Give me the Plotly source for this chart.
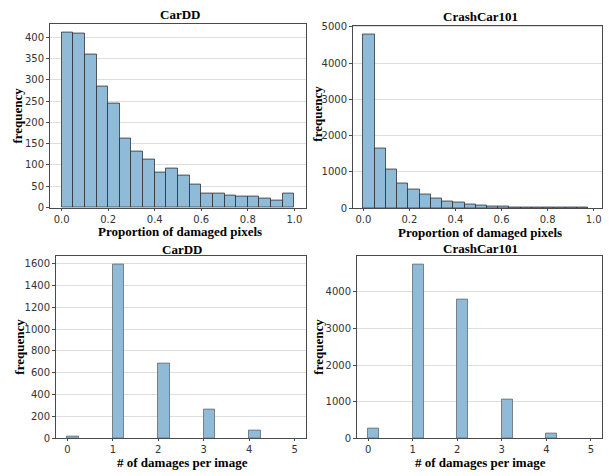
import plotly.graph_objects as go

W, H = 609, 476

# ---- data ----
# Top-left: CarDD, proportion of damaged pixels (20 bins over 0..1)
carDD_prop_bin_start = [i * 0.05 for i in range(20)]
carDD_prop_bin_width = 0.05
carDD_prop_counts = [411, 407, 360, 283, 245, 163, 131, 112, 82, 91,
                     74, 55, 32, 34, 29, 27, 25, 22, 16, 34]

# Top-right: CrashCar101, proportion of damaged pixels (20 bins over 0..~0.976)
crash_prop_bin_width = 0.0488
crash_prop_bin_start = [i * 0.0488 for i in range(20)]
crash_prop_counts = [4800, 1650, 1065, 690, 505, 370, 255, 195, 150, 98,
                     72, 54, 36, 27, 20, 15, 11, 8, 5, 3]

# Bottom: number of damages per image (bins of width 0.25 over 0..5)
dmg_bin_width = 0.25
dmg_bin_start = [0, 1, 2, 3, 4]
carDD_dmg_counts = [15, 1595, 688, 266, 66]
crash_dmg_counts = [267, 4757, 3804, 1042, 125]

title_left = "CarDD"
title_right = "CrashCar101"
xlabel_top = "Proportion of damaged pixels"
xlabel_bottom = "# of damages per image"
ylabel = "frequency"

BAR_FILL = "#8fbbd9"
EDGE_TOP = "rgba(40,40,40,0.75)"
EDGE_BOT = "rgba(90,90,90,0.7)"

fig = go.Figure()

def add_hist(starts, width, counts, xa, ya, edge):
    fig.add_trace(go.Bar(
        x=[s + width / 2 for s in starts], y=counts, width=width,
        marker=dict(color=BAR_FILL, line=dict(color=edge, width=1)),
        xaxis=xa, yaxis=ya, showlegend=False, hoverinfo="x+y"))

add_hist(carDD_prop_bin_start, carDD_prop_bin_width, carDD_prop_counts, "x", "y", EDGE_TOP)
add_hist(crash_prop_bin_start, crash_prop_bin_width, crash_prop_counts, "x2", "y2", EDGE_TOP)
add_hist(dmg_bin_start, dmg_bin_width, carDD_dmg_counts, "x3", "y3", EDGE_BOT)
add_hist(dmg_bin_start, dmg_bin_width, crash_dmg_counts, "x4", "y4", EDGE_BOT)

def px(x):
    return x / W

def py(y):
    return 1 - y / H

tickfont = dict(family="DejaVu Sans", size=10, color="#333333")
common_x = dict(showgrid=False, showline=True, mirror=True, linecolor="#4a4a4a",
                linewidth=1, ticks="outside", ticklen=2, tickcolor="#4a4a4a",
                tickfont=tickfont, zeroline=False)
common_y = dict(showgrid=True, gridcolor="#dedede", gridwidth=1, showline=True,
                mirror=True, linecolor="#4a4a4a", linewidth=1, ticks="outside",
                ticklen=3, tickcolor="#4a4a4a", tickfont=tickfont, zeroline=False)

fig.update_layout(
    width=W, height=H, margin=dict(l=0, r=0, t=0, b=0),
    paper_bgcolor="white", plot_bgcolor="white", bargap=0,
    xaxis=dict(domain=[px(50), px(306)], anchor="y", range=[-0.05, 1.05],
               tickvals=[0, 0.2, 0.4, 0.6, 0.8, 1.0],
               ticktext=["0.0", "0.2", "0.4", "0.6", "0.8", "1.0"], **common_x),
    yaxis=dict(domain=[py(208), py(20)], anchor="x", range=[0, 431.6],
               dtick=50, **common_y),
    xaxis2=dict(domain=[px(353), px(602)], anchor="y2", range=[-0.045, 1.036],
                tickvals=[0, 0.2, 0.4, 0.6, 0.8, 1.0],
                ticktext=["0.0", "0.2", "0.4", "0.6", "0.8", "1.0"], **common_x),
    yaxis2=dict(domain=[py(208.5), py(22)], anchor="x2", range=[0, 5040],
                dtick=1000, **common_y),
    xaxis3=dict(domain=[px(56), px(306)], anchor="y3", range=[-0.25, 5.25],
                dtick=1, **common_x),
    yaxis3=dict(domain=[py(443.5), py(257)], anchor="x3", range=[0, 1675],
                dtick=200, **common_y),
    xaxis4=dict(domain=[px(357), px(602)], anchor="y4", range=[-0.25, 5.25],
                dtick=1, **common_x),
    yaxis4=dict(domain=[py(443.5), py(257)], anchor="x4", range=[0, 4995],
                dtick=1000, **common_y),
)

labfont = dict(family="Liberation Serif", size=13, color="black")

def label(text, x, y, angle=0):
    fig.add_annotation(text=f"<b>{text}</b>", x=px(x), y=py(y), xref="paper",
                       yref="paper", xanchor="center", yanchor="middle",
                       showarrow=False, textangle=angle, font=labfont,
                       borderpad=0)

label(title_left, 180, 11)
label(title_right, 480, 13)
label(title_left, 182, 251)
label(title_right, 480, 250)
label(xlabel_top, 180, 232.5)
label(xlabel_top, 480, 233.5)
label(xlabel_bottom, 182, 468.3)
label(xlabel_bottom, 480, 468.3)
label(ylabel, 18, 114, -90)
label(ylabel, 318, 112, -90)
label(ylabel, 20, 350, -90)
label(ylabel, 319, 350, -90)

fig.write_html(
    "out.html",
    config={"displayModeBar": False},
    post_script="document.body.style.margin='0';document.body.style.overflow='hidden';",
)
